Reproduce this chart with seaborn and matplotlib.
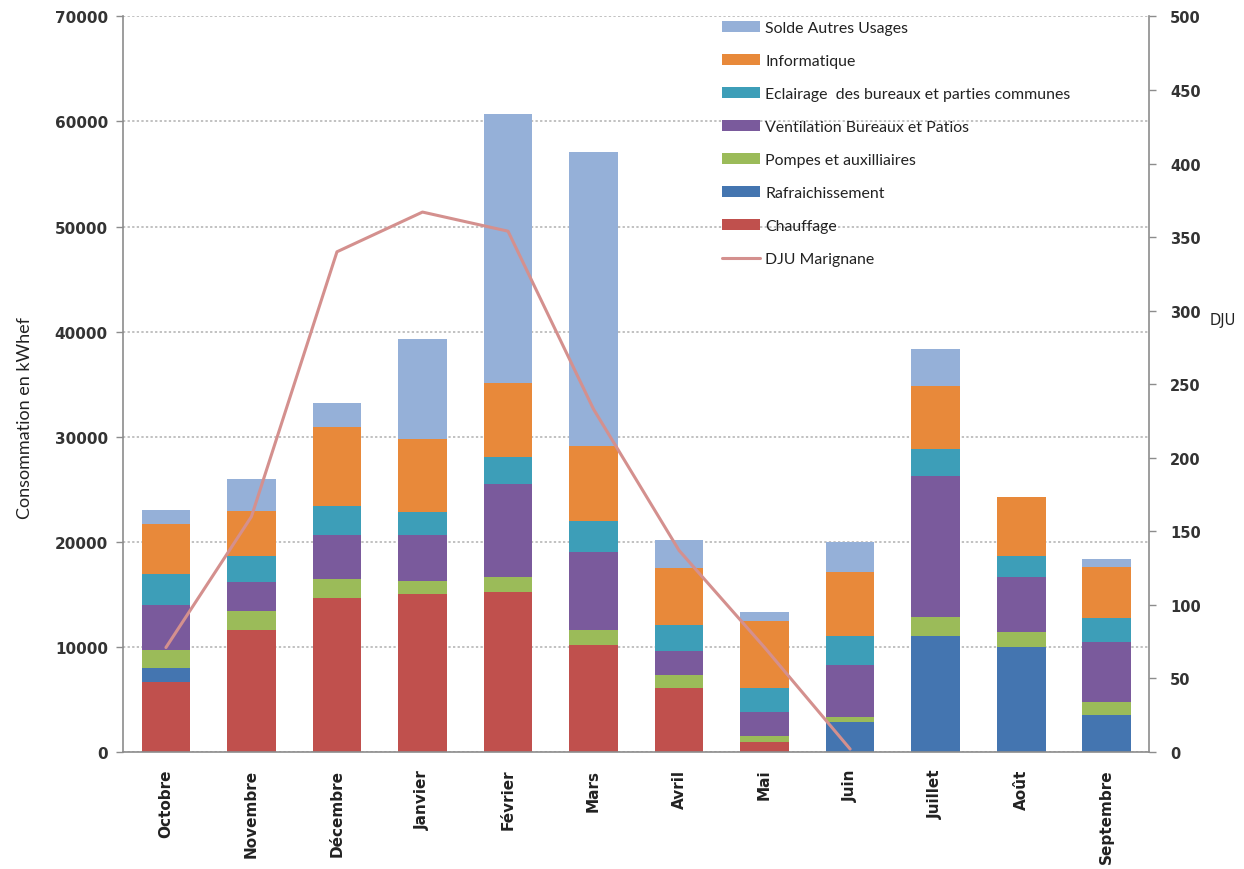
import numpy as np
import pandas as pd
import matplotlib
matplotlib.use("Agg")
import matplotlib.pyplot as plt
from matplotlib.patches import Patch
from matplotlib.lines import Line2D
import seaborn as sns

months = ["Octobre", "Novembre", "Décembre", "Janvier", "Février", "Mars",
          "Avril", "Mai", "Juin", "Juillet", "Août", "Septembre"]

# Monthly consumption per end use (kWhef), bottom of the stack first
chauffage = [6650, 11630, 14670, 15030, 15240, 10200, 6060, 920, 0, 0, 0, 0]
rafraichissement = [1340, 0, 0, 0, 0, 0, 0, 0, 2820, 11060, 9960, 3520]
pompes = [1710, 1750, 1780, 1260, 1370, 1430, 1260, 570, 480, 1750, 1420, 1210]
ventilation = [4280, 2820, 4220, 4380, 8880, 7360, 2320, 2280, 5000, 13470, 5230, 5700]
eclairage = [2950, 2470, 2700, 2180, 2560, 3010, 2440, 2290, 2700, 2540, 2060, 2280]
informatique = [4750, 4220, 7530, 6920, 7040, 7130, 5420, 6370, 6150, 6020, 5550, 4850]
solde = [1340, 3090, 2290, 9510, 25580, 27930, 2630, 860, 2850, 3490, 0, 790]

# Heating degree days, Marignane (no values after June)
dju = [71, 160, 340, 367, 354, 233, 137, 71, 2]

series = [
    ("Chauffage", chauffage, "#C0504D"),
    ("Rafraichissement", rafraichissement, "#4475B0"),
    ("Pompes et auxilliaires", pompes, "#9BBB59"),
    ("Ventilation Bureaux et Patios", ventilation, "#7A5A9C"),
    ("Eclairage  des bureaux et parties communes", eclairage, "#3D9EB8"),
    ("Informatique", informatique, "#E8893A"),
    ("Solde Autres Usages", solde, "#95B0D8"),
]
dju_label = "DJU Marignane"
dju_color = "#D4908E"

sns.set_style("white")
plt.rcParams["font.family"] = ["DejaVu Sans"]

fig = plt.figure(figsize=(12.44, 8.70), dpi=100)
ax = fig.add_axes([0.099, 0.1345, 0.825, 0.8455])

# Stacked bars: draw cumulative totals from the top layer down
df = pd.DataFrame({name: vals for name, vals, _ in series}, index=months)
cum = df.cumsum(axis=1)
for name, _, color in reversed(series):
    sns.barplot(x=months, y=cum[name].values, color=color, saturation=1,
                width=0.57, ax=ax, linewidth=0, order=months)

ax.set_ylim(0, 70000)
ax.set_xlim(-0.5, len(months) - 0.5)
ax.set_yticks(np.arange(0, 70001, 10000))
ax.set_axisbelow(True)
ax.yaxis.grid(True, linestyle=(0, (1.5, 1.5)), color="#B0B0B0", linewidth=1.1)
ax.xaxis.grid(False)

for side in ["top", "right"]:
    ax.spines[side].set_visible(False)
for side in ["left", "bottom"]:
    ax.spines[side].set_color("#8C8C8C")
    ax.spines[side].set_linewidth(1.2)

ax.tick_params(axis="y", which="major", direction="out", length=5, width=1,
               color="#8C8C8C", labelsize=11, pad=6)
ax.tick_params(axis="x", length=0, pad=12)
for lbl in ax.get_yticklabels():
    lbl.set_fontweight("bold")
    lbl.set_color("#333333")
ax.set_xticks(range(len(months)))
ax.set_xticklabels(months, rotation=90, fontsize=11, fontweight="bold",
                   color="#222222", va="top")
ax.set_ylabel("Consommation en kWhef", fontsize=13, family="Lato",
              color="#222222")
ax.yaxis.set_label_coords(-0.088, 0.455)

# Secondary axis for degree days
ax2 = ax.twinx()
sns.lineplot(x=np.arange(len(dju)), y=dju, color=dju_color, linewidth=2.2,
             ax=ax2)
ax2.set_ylim(0, 500)
ax2.set_yticks(np.arange(0, 501, 50))
ax2.grid(False)
for side in ["top", "left", "bottom"]:
    ax2.spines[side].set_visible(False)
ax2.spines["right"].set_color("#8C8C8C")
ax2.spines["right"].set_linewidth(1.2)
ax2.tick_params(axis="y", direction="out", length=5, width=1, color="#8C8C8C",
                labelsize=10.5, pad=10)
for lbl in ax2.get_yticklabels():
    lbl.set_fontweight("bold")
    lbl.set_color("#333333")
ax2.set_ylabel("DJU", rotation=0, fontsize=10.5, color="#222222",
               va="center", ha="left")
ax2.yaxis.set_label_coords(1.059, 0.588)

handles = [Patch(facecolor=c, edgecolor="none") for _, _, c in reversed(series)]
labels = [n for n, _, _ in reversed(series)]
handles.append(Line2D([0], [0], color=dju_color, linewidth=2.2))
labels.append(dju_label)
leg = ax2.legend(handles, labels, loc="upper left",
                 bbox_to_anchor=(0.577, 1.003), frameon=False,
                 prop={"family": "Lato", "size": 11.4},
                 handlelength=2.4, handleheight=0.7, handletextpad=0.35,
                 labelspacing=1.2, borderaxespad=0.0)
for t in leg.get_texts():
    t.set_color("#222222")

fig.savefig("out.png", dpi=100, facecolor="white")
